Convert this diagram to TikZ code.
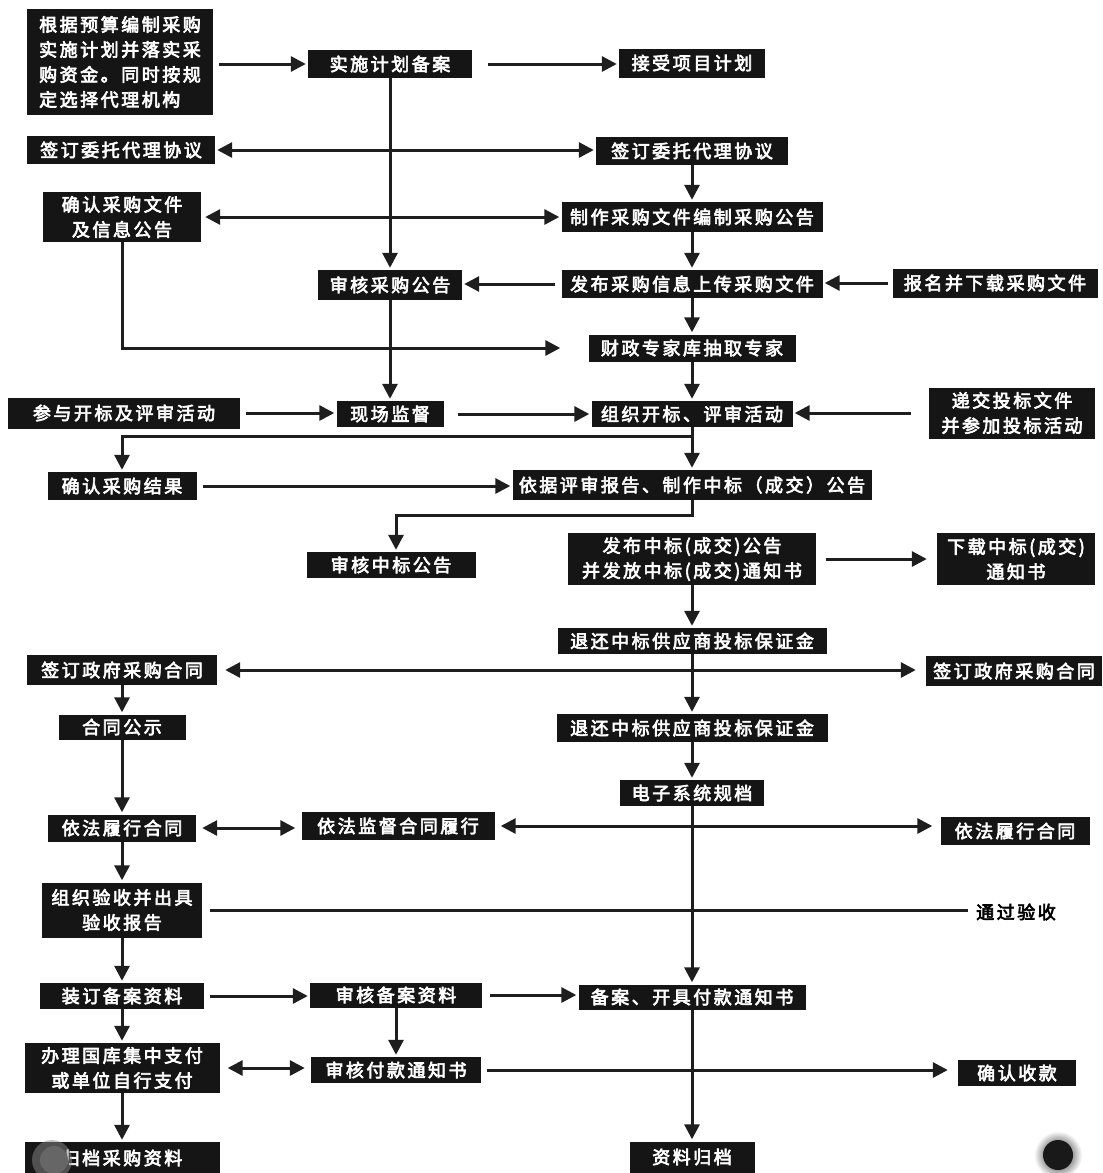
\documentclass[tikz,border=0pt]{standalone}
\usepackage{fontspec}
\newfontfamily\cjkb{Noto Sans CJK SC}[FakeBold=3.5,LetterSpace=14]
\usetikzlibrary{arrows.meta,calc}
\definecolor{boxc}{HTML}{151515}
\definecolor{linec}{HTML}{1E1E1E}
\newcommand\mybox[6]{\node[blk,minimum width=#4,minimum height=#5] (#1) at (#2,#3) {#6};}
\begin{document}
\begin{tikzpicture}[x=1pt,y=-1pt,
  blk/.style={fill=boxc,text=white,inner sep=0pt,align=center,
    font=\cjkb\fontsize{18}{25}\selectfont},
  ln/.style={draw=linec,line width=3pt,-{Triangle[length=15pt,width=15pt]},shorten >=2pt},
  lnb/.style={draw=linec,line width=3pt,{Triangle[length=15pt,width=15pt]}-{Triangle[length=15pt,width=15pt]},shorten >=2pt,shorten <=2pt},
  lnp/.style={draw=linec,line width=3pt}]
\fill[white] (0,0) rectangle (1103,1173);
\useasboundingbox (0,0) rectangle (1103,1173);

% left column
\node[blk,minimum width=186,minimum height=106,align=left] (A1) at (120,62) {根据预算编制采购\\实施计划并落实采\\购资金。同时按规\\定选择代理机构};
\mybox{B1}{121}{150}{188}{28}{签订委托代理协议}
\mybox{C1}{122}{217}{158}{50}{确认采购文件\\及信息公告}
\mybox{F1}{124}{413}{232}{31}{参与开标及评审活动}
\mybox{G1}{122}{486}{149}{28}{确认采购结果}
\mybox{J1}{122}{670}{190}{30}{签订政府采购合同}
\mybox{K1}{122}{727}{127}{25}{合同公示}
\mybox{M1}{122}{828}{148}{27}{依法履行合同}
\mybox{N1}{122}{910}{160}{55}{组织验收并出具\\验收报告}
\mybox{O1}{122}{996}{164}{26}{装订备案资料}
\mybox{P1}{122}{1068}{195}{50}{办理国库集中支付\\或单位自行支付}
\mybox{Q1}{122}{1158}{195}{32}{归档采购资料}

% middle column
\mybox{A2}{390}{64}{164}{28}{实施计划备案}
\mybox{D1}{390}{285}{144}{30}{审核采购公告}
\mybox{F2}{390}{414}{107}{26}{现场监督}
\mybox{H1}{391}{565}{169}{26}{审核中标公告}
\mybox{M2}{398}{826}{193}{28}{依法监督合同履行}
\mybox{O2}{396}{995}{172}{25}{审核备案资料}
\mybox{P2}{396}{1070}{170}{26}{审核付款通知书}

% right-centre column
\mybox{A3}{692}{63}{146}{29}{接受项目计划}
\mybox{B2}{692}{151}{192}{28}{签订委托代理协议}
\mybox{C2}{692}{217}{261}{30}{制作采购文件编制采购公告}
\mybox{D2}{692}{284}{261}{28}{发布采购信息上传采购文件}
\mybox{E}{692}{348}{207}{27}{财政专家库抽取专家}
\mybox{F3}{692}{414}{201}{26}{组织开标、评审活动}
\mybox{G2}{692}{485}{359}{30}{依据评审报告、制作中标（成交）公告}
\mybox{H2}{692}{559}{248}{52}{发布中标(成交)公告\\并发放中标(成交)通知书}
\mybox{I}{692}{641}{269}{26}{退还中标供应商投标保证金}
\mybox{K2}{692}{728}{271}{28}{退还中标供应商投标保证金}
\mybox{L}{692}{793}{144}{26}{电子系统规档}
\mybox{O3}{692}{997}{227}{25}{备案、开具付款通知书}
\mybox{Q2}{692}{1157}{125}{31}{资料归档}

% far right
\mybox{D3}{995}{283}{205}{29}{报名并下载采购文件}
\mybox{F4}{1012}{413}{166}{51}{递交投标文件\\并参加投标活动}
\mybox{H3}{1016}{559}{158}{52}{下载中标(成交)\\通知书}
\mybox{J2}{1014}{671}{176}{30}{签订政府采购合同}
\mybox{M3}{1015}{831}{149}{28}{依法履行合同}
\node[inner sep=0pt,font=\cjkb\fontsize{18}{25}\selectfont,text=black] (N2) at (1016,912) {通过验收};
\mybox{P3}{1017}{1073}{118}{26}{确认收款}

% connectors: row 1
\draw[ln,shorten <=6pt] (A1.east |- A2) -- (A2.west);
\draw[ln,shorten <=16pt] (A2.east) -- (A3.west |- A2.east);
\draw[ln] (A2.south) -- (D1.north);
% rows 2-4
\draw[lnb] (B1.east) -- (B2.west |- B1.east);
\draw[ln] (B2.south) -- (C2.north);
\draw[lnb,shorten <=4pt] (C1.east) -- (C2.west |- C1.east);
\draw[ln] (C2.south) -- (D2.north);
\draw[ln,shorten <=6pt] (D2.west) -- (D1.east |- D2.west);
\draw[ln,shorten <=4pt] (D3.west) -- (D2.east |- D3.west);
\draw[ln] (D2.south) -- (E.north);
\draw[ln,shorten >=28pt] (C1.south) |- (E.west);
% bidding row
\draw[ln] (D1.south) -- (F2.north);
\draw[ln] (E.south) -- (F3.north);
\draw[ln,shorten <=6pt] (F1.east) -- (F2.west |- F1.east);
\draw[ln,shorten <=14pt] (F2.east) -- (F3.west |- F2.east);
\draw[ln,shorten <=18pt] (F4.west) -- (F3.east |- F4.west);
\draw[ln] (F3.south) -- (G2.north);
\coordinate (br1) at (692,436);
\draw[ln] (F3.south) -- (br1) -| (G1.north);
\draw[ln,shorten <=6pt] (G1.east) -- (G2.west |- G1.east);
\coordinate (br2) at (692,515);
\draw[ln] (G2.south) -- (br2) -| ($(H1.north)+(5,0)$);
\draw[ln,shorten <=10pt,shorten >=10pt] (H2.east) -- (H3.west |- H2.east);
\draw[ln] (H2.south) -- (I.north);
% contract
\draw[ln] (I.south) -- (K2.north);
\draw[lnb,shorten <=8pt,shorten >=10pt] (J1.east) -- (J2.west |- J1.east);
\draw[ln] (J1.south) -- (K1.north);
\draw[ln] (K1.south) -- (M1.north);
\draw[ln] (K2.south) -- (L.north);
\draw[ln] (L.south) -- (O3.north);
\draw[lnb,shorten <=6pt,shorten >=6pt] (M1.east) -- (M2.west |- M1.east);
\draw[lnb,shorten <=6pt,shorten >=8pt] (M2.east) -- (M3.west |- M2.east);
\draw[ln] (M1.south) -- (N1.north);
\draw[lnp,shorten <=8pt,shorten >=8pt] (N1.east) -- (N2.west |- N1.east);
% payment
\draw[ln] (N1.south) -- (O1.north);
\draw[ln,shorten <=6pt] (O1.east) -- (O2.west |- O1.east);
\draw[ln,shorten <=8pt] (O2.east) -- (O3.west |- O2.east);
\draw[ln] (O2.south) -- (P2.north);
\draw[ln] (O1.south) -- (P1.north);
\draw[lnb,shorten <=8pt,shorten >=6pt] (P1.east) -- (P2.west |- P1.east);
\draw[ln,shorten <=6pt,shorten >=10pt] (P2.east) -- (P3.west |- P2.east);
\draw[ln] (P1.south) -- (Q1.north);
\draw[ln] (O3.south) -- (Q2.north);

% photo blemishes
\fill[black!45,opacity=0.5] (52,1160) circle (20);
\fill[black!60] (54,1160) circle (14);
\shade[inner color=black,outer color=white] (1058,1155) circle (24);
\fill[black!90] (1058,1155) circle (15);
\end{tikzpicture}
\end{document}
